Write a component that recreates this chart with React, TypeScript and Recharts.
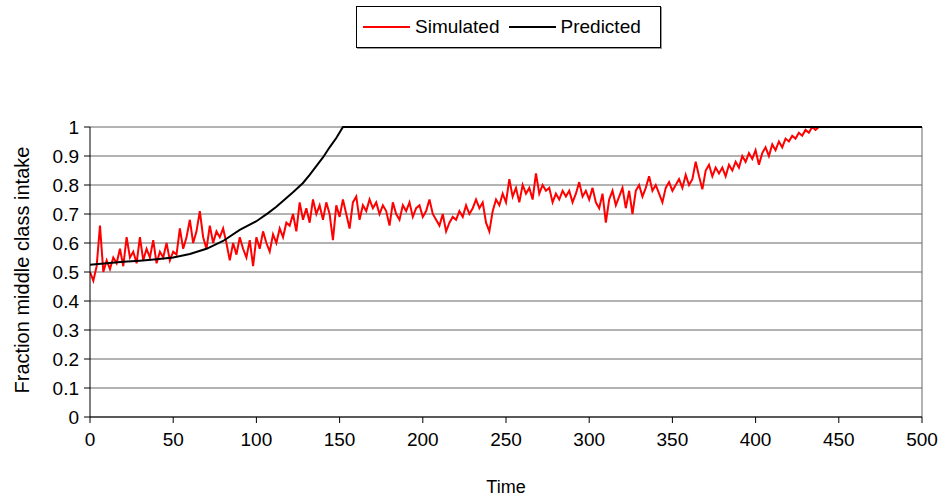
import { CartesianGrid, Legend, Line, LineChart, ReferenceLine, XAxis, YAxis } from "recharts";

// Simulated run, one reading every 2 time steps (t = 0, 2, ..., 440)
const simulatedTimes: number[] = Array.from({ length: 221 }, (_, i) => i * 2);
const simulatedValues: number[] = [
  0.50, 0.47, 0.52, 0.66, 0.50, 0.54, 0.51, 0.55, 0.53, 0.58,
  0.52, 0.62, 0.55, 0.57, 0.53, 0.62, 0.54, 0.58, 0.55, 0.61,
  0.53, 0.57, 0.55, 0.60, 0.54, 0.57, 0.56, 0.65, 0.58, 0.62,
  0.68, 0.60, 0.64, 0.71, 0.62, 0.58, 0.66, 0.60, 0.64, 0.62,
  0.65, 0.60, 0.54, 0.60, 0.56, 0.62, 0.58, 0.55, 0.61, 0.52,
  0.62, 0.58, 0.64, 0.60, 0.57, 0.63, 0.60, 0.65, 0.62, 0.67,
  0.66, 0.70, 0.64, 0.74, 0.68, 0.72, 0.67, 0.75, 0.70, 0.73,
  0.68, 0.74, 0.70, 0.61, 0.73, 0.69, 0.75, 0.70, 0.65, 0.74,
  0.76, 0.68, 0.73, 0.71, 0.75, 0.72, 0.74, 0.70, 0.73, 0.71,
  0.66, 0.74, 0.70, 0.68, 0.73, 0.71, 0.74, 0.69, 0.72, 0.73,
  0.69, 0.71, 0.75, 0.70, 0.68, 0.66, 0.70, 0.64, 0.67, 0.69,
  0.68, 0.71, 0.69, 0.73, 0.70, 0.72, 0.75, 0.72, 0.74, 0.67,
  0.64, 0.71, 0.75, 0.73, 0.77, 0.74, 0.82, 0.76, 0.79, 0.74,
  0.80, 0.77, 0.79, 0.75, 0.84, 0.77, 0.80, 0.78, 0.79, 0.74,
  0.77, 0.75, 0.78, 0.76, 0.78, 0.74, 0.77, 0.81, 0.76, 0.78,
  0.75, 0.79, 0.74, 0.72, 0.77, 0.67, 0.75, 0.78, 0.73, 0.76,
  0.79, 0.72, 0.78, 0.70, 0.78, 0.80, 0.76, 0.79, 0.83, 0.78,
  0.80, 0.77, 0.74, 0.79, 0.81, 0.78, 0.80, 0.82, 0.79, 0.835,
  0.80, 0.82, 0.88, 0.83, 0.785, 0.85, 0.87, 0.83, 0.86, 0.84,
  0.86, 0.83, 0.87, 0.85, 0.88, 0.86, 0.90, 0.88, 0.91, 0.89,
  0.92, 0.87, 0.91, 0.93, 0.90, 0.94, 0.92, 0.95, 0.93, 0.96,
  0.95, 0.97, 0.96, 0.98, 0.97, 0.99, 0.98, 1.00, 0.99, 1.00,
  1.00,
];

// Predicted curve
const predictedTimes: number[] = [
  0, 10, 20, 30, 40, 50, 60, 70, 80, 90, 100, 107, 112, 117, 122, 128, 132, 136, 140, 144, 148, 152, 500,
];
const predictedValues: number[] = [
  0.525, 0.53, 0.535, 0.539, 0.544, 0.55, 0.562, 0.58, 0.607, 0.645, 0.675, 0.703, 0.725, 0.75, 0.775,
  0.807, 0.835, 0.865, 0.895, 0.93, 0.962, 1.0, 1.0,
];

const xTicks: number[] = [0, 50, 100, 150, 200, 250, 300, 350, 400, 450, 500];
const yTicks: number[] = [0, 0.1, 0.2, 0.3, 0.4, 0.5, 0.6, 0.7, 0.8, 0.9, 1];

const seriesNames: string[] = ["Simulated", "Predicted"];
const seriesColors: string[] = ["#ff0000", "#000000"];

const simulated = simulatedTimes.map((t, i) => ({ t, v: simulatedValues[i] }));
const predicted = predictedTimes.map((t, i) => ({ t, v: predictedValues[i] }));

const FONT = "'Liberation Sans', Arial, sans-serif";

function LegendBox() {
  return (
    <div
      style={{
        boxSizing: "border-box",
        height: 42,
        border: "1px solid #000",
        boxShadow: "1px 1px 0 #999",
        background: "#fff",
        display: "flex",
        alignItems: "center",
        paddingLeft: 6,
        fontFamily: FONT,
        fontSize: 19,
        color: "#000",
      }}
    >
      {seriesNames.map((name, i) => (
        <div key={name} style={{ display: "flex", alignItems: "center", marginRight: 9 }}>
          <span
            style={{
              display: "inline-block",
              width: 47,
              height: 2,
              background: seriesColors[i],
              marginRight: 5,
            }}
          />
          <span>{name}</span>
        </div>
      ))}
    </div>
  );
}

export default function App() {
  return (
    <div style={{ position: "absolute", left: 0, top: 0, background: "#fff" }}>
      <LineChart width={945} height={500} margin={{ top: 127, right: 23, bottom: 0, left: 0 }}>
        <CartesianGrid horizontal vertical={false} stroke="#666" />
        <XAxis
          dataKey="t"
          type="number"
          domain={[0, 500]}
          ticks={xTicks}
          height={83}
          stroke="#000"
          tickSize={6}
          tickMargin={10}
          tick={{ fill: "#000", fontSize: 19, fontFamily: FONT }}
          allowDataOverflow
          label={{
            content: () => (
              <text x={506} y={493} textAnchor="middle" fontSize={18} fontFamily={FONT} fill="#000">
                Time
              </text>
            ),
          }}
        />
        <YAxis
          type="number"
          domain={[0, 1]}
          ticks={yTicks}
          width={90}
          stroke="#000"
          tickSize={6}
          tickMargin={5}
          tick={{ fill: "#000", fontSize: 19, fontFamily: FONT }}
          label={{
            content: () => (
              <text
                x={29}
                y={270}
                transform="rotate(-90 29 270)"
                textAnchor="middle"
                fontSize={20}
                fontFamily={FONT}
                fill="#000"
              >
                Fraction middle class intake
              </text>
            ),
          }}
        />
        <ReferenceLine x={500} stroke="#666" />
        <Legend
          layout="horizontal"
          verticalAlign="middle"
          align="center"
          wrapperStyle={{ top: 6, left: 356, width: 305 }}
          content={<LegendBox />}
        />
        <Line
          data={simulated}
          dataKey="v"
          name={seriesNames[0]}
          type="linear"
          stroke={seriesColors[0]}
          strokeWidth={2}
          dot={false}
          isAnimationActive={false}
        />
        <Line
          data={predicted}
          dataKey="v"
          name={seriesNames[1]}
          type="linear"
          stroke={seriesColors[1]}
          strokeWidth={2}
          dot={false}
          isAnimationActive={false}
        />
      </LineChart>
    </div>
  );
}
